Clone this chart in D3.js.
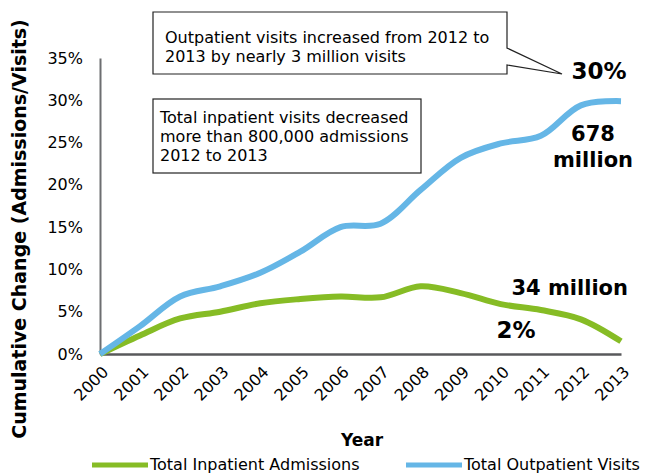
<!DOCTYPE html>
<html>
<head>
<meta charset="utf-8">
<script src="https://cdn.jsdelivr.net/npm/d3@7"></script>
<style>
  body { margin: 0; background: #fff; }
  svg text { font-family: "DejaVu Sans", Verdana, sans-serif; fill: #000; }
</style>
</head>
<body>
<div id="chart"></div>
<script>
const w = 645;
const h = 474;

const years = ["2000", "2001", "2002", "2003", "2004", "2005", "2006", "2007", "2008", "2009", "2010", "2011", "2012", "2013"];
const inpatient = [0, 2.2, 4.2, 5.0, 6.0, 6.5, 6.8, 6.7, 8.0, 7.2, 5.9, 5.2, 4.1, 1.5];
const outpatient = [0, 3.3, 6.8, 8.0, 9.6, 12.1, 15.0, 15.4, 19.4, 23.2, 24.9, 25.8, 29.4, 29.9];
const yTicks = [0, 5, 10, 15, 20, 25, 30, 35];
const seriesNames = ["Total Inpatient Admissions", "Total Outpatient Visits"];
const colors = ["#86bc25", "#65b6e6"];

const margin = {top: 58, left: 100, right: 24, bottom: 120};

const svg = d3.select("#chart").append("svg").attr("width", w).attr("height", h);

const x = d3.scalePoint().domain(years).range([margin.left, w - margin.right]);
const y = d3.scaleLinear().domain([0, 35]).range([h - margin.bottom, margin.top]);

// axes
const yAxis = d3.axisLeft(y).tickValues(yTicks).tickSize(0).tickPadding(17).tickFormat(d => d + "%");
const gy = svg.append("g").attr("transform", `translate(${margin.left},0)`).call(yAxis);
gy.select(".domain").attr("stroke", "#6d6e71").attr("stroke-width", 2);
gy.selectAll("text").style("font-size", "16px").attr("fill", "#000");

const xAxis = d3.axisBottom(x).tickSize(0).tickPadding(0);
const gx = svg.append("g").attr("transform", `translate(0,${y(0)})`).call(xAxis);
gx.select(".domain").attr("stroke", "#58595b").attr("stroke-width", 2.5);
gx.selectAll("text")
  .style("font-size", "16px")
  .attr("fill", "#000")
  .attr("text-anchor", "end")
  .attr("dy", null)
  .attr("y", 0)
  .attr("transform", "translate(9,19) rotate(-45)");

// axis titles
svg.append("text")
  .attr("transform", "translate(26,229) rotate(-90)")
  .attr("text-anchor", "middle")
  .style("font-size", "19px").style("font-weight", "bold")
  .text("Cumulative Change (Admissions/Visits)");

svg.append("text")
  .attr("x", 362).attr("y", 446)
  .attr("text-anchor", "middle")
  .style("font-size", "17px").style("font-weight", "bold")
  .text("Year");

// lines
const line = d3.line()
  .x((d, i) => x(years[i]))
  .y(d => y(d))
  .curve(d3.curveCatmullRom);

[inpatient, outpatient].forEach((s, i) => {
  svg.append("path")
    .datum(s)
    .attr("d", line)
    .attr("fill", "none")
    .attr("stroke", colors[i])
    .attr("stroke-width", 6)
    .attr("stroke-linejoin", "round");
});

// legend
const legendX = [92, 406];
seriesNames.forEach((name, i) => {
  svg.append("line")
    .attr("x1", legendX[i]).attr("x2", legendX[i] + 56)
    .attr("y1", 465).attr("y2", 465)
    .attr("stroke", colors[i]).attr("stroke-width", 5);
  svg.append("text")
    .attr("x", legendX[i] + 58).attr("y", 470)
    .style("font-size", "16px")
    .text(name);
});

// callout boxes
const p = d3.path();
p.moveTo(153, 12);
p.lineTo(507, 12);
p.lineTo(507, 48);
p.lineTo(562, 74);
p.lineTo(507, 65);
p.lineTo(507, 74);
p.lineTo(153, 74);
p.closePath();
svg.append("path").attr("d", p.toString()).attr("fill", "#fff").attr("stroke", "#222").attr("stroke-width", 1.2);

svg.append("rect")
  .attr("x", 153).attr("y", 99).attr("width", 268).attr("height", 74)
  .attr("fill", "#fff").attr("stroke", "#222").attr("stroke-width", 1.2);

function lines(txt, x0, y0, lh) {
  txt.forEach((t, i) => {
    svg.append("text").attr("x", x0).attr("y", y0 + i * lh)
      .style("font-size", "16px").text(t);
  });
}
lines(["Outpatient visits increased from 2012 to", "2013 by nearly 3 million visits"], 165, 43, 19);
lines(["Total inpatient visits decreased", "more than 800,000 admissions", "2012 to 2013"], 160, 123, 19);

// end labels
const bold = (t, xx, yy, anchor, fs) => svg.append("text")
  .attr("x", xx).attr("y", yy).attr("text-anchor", anchor)
  .style("font-size", fs + "px").style("font-weight", "bold").text(t);
bold("30%", 599, 79, "middle", 23);
bold("678", 593, 141, "middle", 21);
bold("million", 593, 167, "middle", 21);
bold("34 million", 628, 295, "end", 21);
bold("2%", 516, 338, "middle", 23);
</script>
</body>
</html>
